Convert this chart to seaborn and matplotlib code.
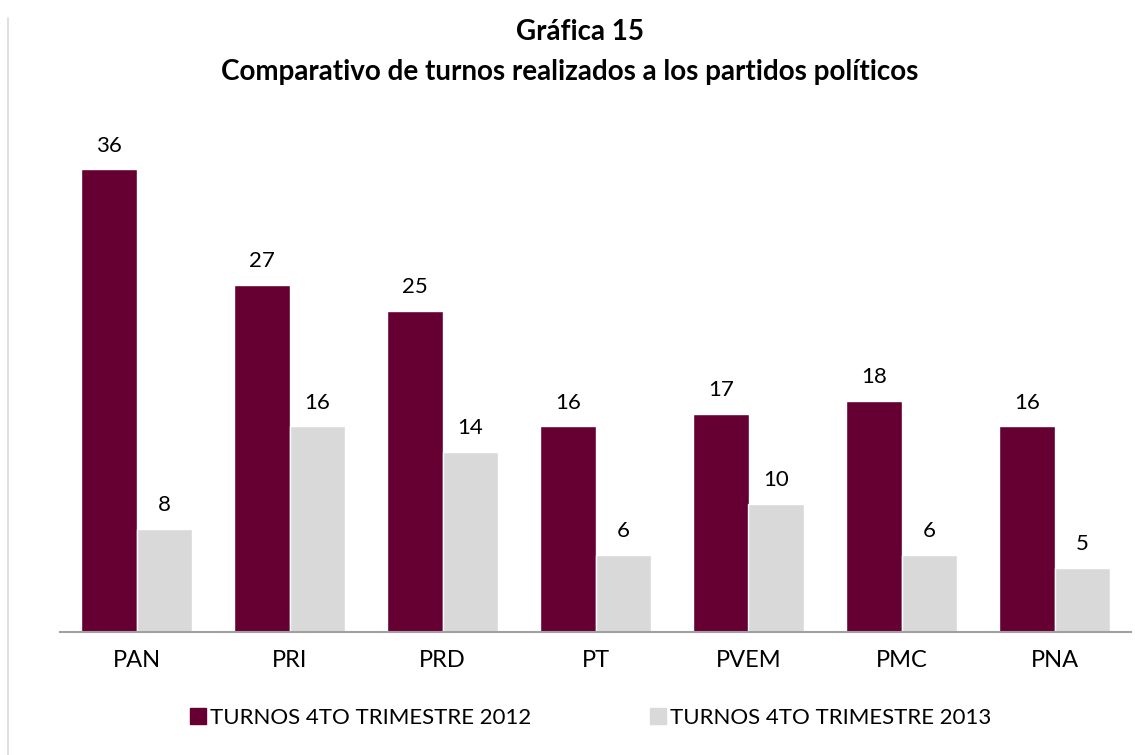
import matplotlib
matplotlib.use("Agg")
import matplotlib.pyplot as plt
import seaborn as sns
import pandas as pd
from matplotlib.lines import Line2D

partidos = ["PAN", "PRI", "PRD", "PT", "PVEM", "PMC", "PNA"]
turnos_2012 = [36, 27, 25, 16, 17, 18, 16]
turnos_2013 = [8, 16, 14, 6, 10, 6, 5]
series = ["TURNOS 4TO TRIMESTRE 2012", "TURNOS 4TO TRIMESTRE 2013"]
colores = ["#660033", "#D9D9D9"]

df = pd.DataFrame({
    "Partido": partidos * 2,
    "Turnos": turnos_2012 + turnos_2013,
    "Serie": [series[0]] * len(partidos) + [series[1]] * len(partidos),
})

sns.set_theme(style="white")
plt.rcParams["font.family"] = ["Lato", "DejaVu Sans"]
plt.rcParams["text.color"] = "#000000"

fig = plt.figure(figsize=(11.35, 7.55), dpi=100)
ax = fig.add_axes([60 / 1135, 1 - 632 / 755, (1131 - 60) / 1135, (632 - 118) / 755])

sns.barplot(data=df, x="Partido", y="Turnos", hue="Serie", palette=colores,
            width=0.72, gap=0, ax=ax, legend=False, saturation=1)

for cont in ax.containers:
    ax.bar_label(cont, fmt="%d", padding=10, fontsize=16, color="#000000")

ax.set_ylim(0, 40)
ax.set_xlim(-0.5, len(partidos) - 0.5)
ax.set_xlabel("")
ax.set_ylabel("")
ax.set_yticks([])
for s in ["top", "right", "left"]:
    ax.spines[s].set_visible(False)
ax.spines["bottom"].set_color("#A0A0A0")
ax.spines["bottom"].set_linewidth(1.5)
ax.tick_params(axis="x", length=0, pad=13, labelsize=17, colors="#000000")

fig.text(0.511, 1 - 32 / 755, "Gráfica 15", ha="center", va="center",
         fontsize=20, fontweight="bold", color="#000000")
fig.text(0.502, 1 - 72 / 755, "Comparativo de turnos realizados a los partidos políticos",
         ha="center", va="center", fontsize=20, fontweight="bold", color="#000000")

handles = [Line2D([], [], marker="s", linestyle="none", markersize=11,
                  markerfacecolor=c, markeredgecolor=c) for c in colores]
leg = fig.legend(handles, series, loc="center", bbox_to_anchor=(0.52, 1 - 718 / 755),
                 ncol=2, frameon=False, fontsize=16, handletextpad=0.15,
                 columnspacing=5.3, handlelength=0.8)
for t in leg.get_texts():
    t.set_color("#000000")

fig.add_artist(Line2D([8 / 1135, 8 / 1135], [0, 1 - 18 / 755],
                      transform=fig.transFigure, color="#D9D9D9", linewidth=1.2))

fig.savefig("out.png", dpi=100)
